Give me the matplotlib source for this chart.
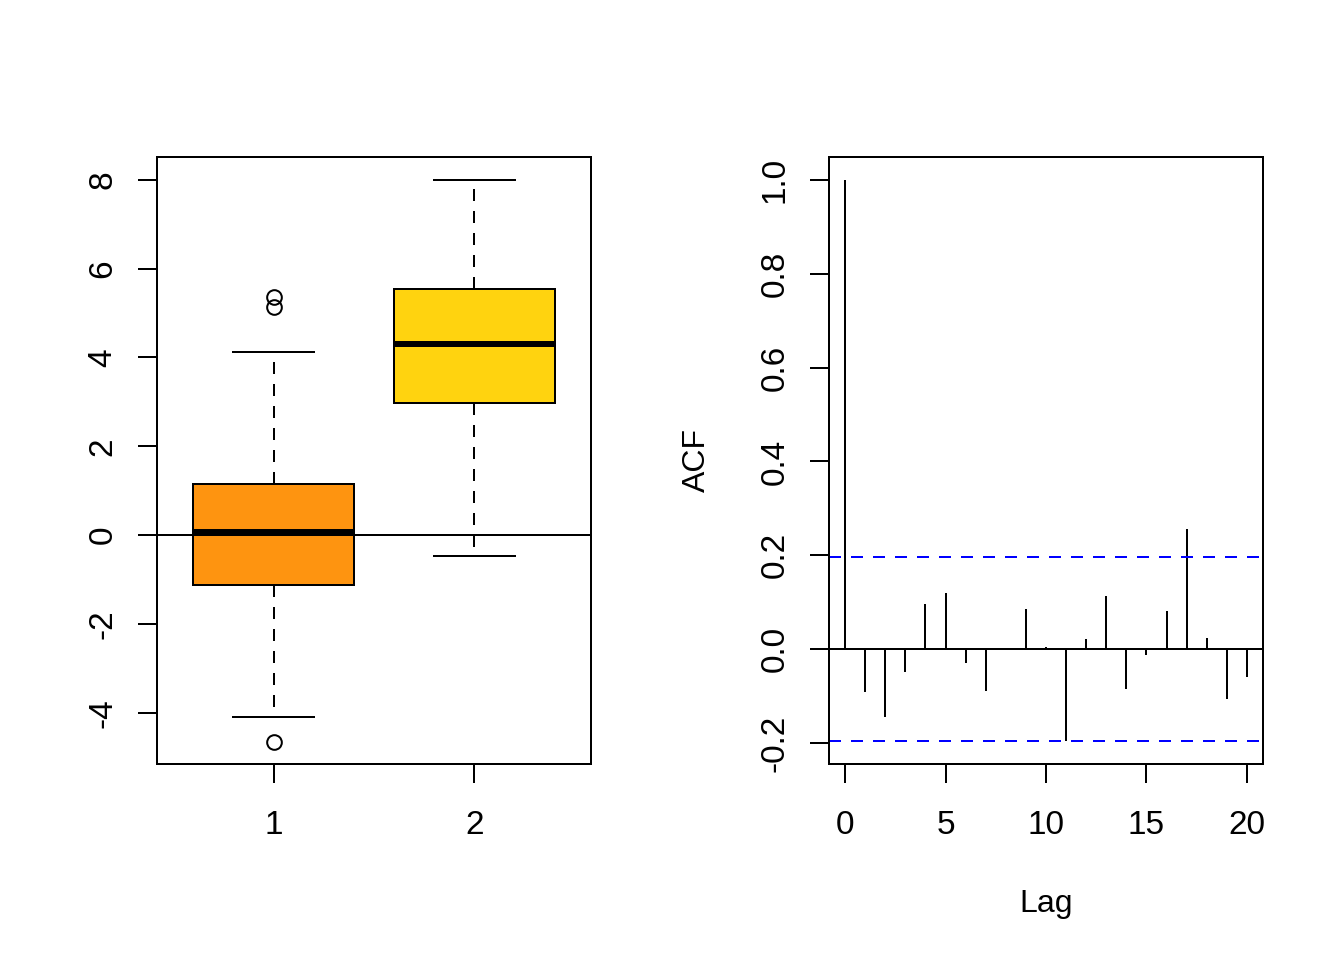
import matplotlib
matplotlib.use("Agg")
import matplotlib.pyplot as plt

plt.rcParams["font.family"] = ["Liberation Sans", "DejaVu Sans"]
plt.rcParams["font.size"] = 12

# boxplot summary statistics (group 1, group 2)
groups = [1, 2]
box_colors = ["#FE9410", "#FFD30F"]
q1 = [-1.12, 2.98]
medians = [0.08, 4.31]
q3 = [1.16, 5.55]
whisker_lo = [-4.10, -0.46]
whisker_hi = [4.12, 8.00]
outliers = [[5.35, 5.13, -4.66], []]

# sample autocorrelation, lags 0..20
lags = list(range(21))
acf_values = [1.0, -0.092, -0.145, -0.048, 0.097, 0.120, -0.030, -0.090,
              0.002, 0.086, 0.005, -0.195, 0.022, 0.113, -0.085, -0.013,
              0.082, 0.256, 0.024, -0.107, -0.059]
conf_bound = 0.196

LW = 0.75  # R lwd=1 in points
DASH = (0, (6, 5))

fig = plt.figure(figsize=(7, 5), dpi=192)
ax1 = fig.add_axes([157 / 1344, 1 - 764 / 960, 434 / 1344, 607 / 960])
ax2 = fig.add_axes([829 / 1344, 1 - 764 / 960, 434 / 1344, 607 / 960])

# ---- left: boxplot ----
stats = []
for i in range(len(groups)):
    stats.append(dict(med=medians[i], q1=q1[i], q3=q3[i],
                      whislo=whisker_lo[i], whishi=whisker_hi[i],
                      fliers=outliers[i]))
bp = ax1.bxp(stats, positions=groups, widths=0.8, capwidths=0.4,
             patch_artist=True,
             boxprops=dict(linewidth=LW, edgecolor="black"),
             medianprops=dict(color="black", linewidth=2.25, solid_capstyle="butt"),
             whiskerprops=dict(color="black", linewidth=LW, linestyle=DASH),
             capprops=dict(color="black", linewidth=LW),
             flierprops=dict(marker="o", markersize=5.5, markerfacecolor="none",
                             markeredgecolor="black", markeredgewidth=LW))
for patch, c in zip(bp["boxes"], box_colors):
    patch.set_facecolor(c)
ax1.axhline(0, color="black", linewidth=LW, zorder=5)

ax1.set_xlim(0.42, 2.58)
ax1.set_ylim(-5.15, 8.51)
ax1.set_xticks(groups)
ax1.set_xticklabels([str(g) for g in groups])
yt = [-4, -2, 0, 2, 4, 6, 8]
ax1.set_yticks(yt)
ax1.set_yticklabels([str(v) for v in yt], rotation=90, va="center")

# ---- right: ACF ----
ax2.vlines(lags, 0, acf_values, color="black", linewidth=LW)
ax2.axhline(0, color="black", linewidth=LW)
ax2.axhline(conf_bound, color="blue", linewidth=LW, linestyle=DASH)
ax2.axhline(-conf_bound, color="blue", linewidth=LW, linestyle=DASH)
ax2.set_xlim(-0.8, 20.8)
ax2.set_ylim(-0.2448, 1.0488)
xt = [0, 5, 10, 15, 20]
ax2.set_xticks(xt)
ax2.set_xticklabels([str(v) for v in xt])
yt2 = [-0.2, 0.0, 0.2, 0.4, 0.6, 0.8, 1.0]
ax2.set_yticks(yt2)
ax2.set_yticklabels([f"{v:.1f}" for v in yt2], rotation=90, va="center")
ax2.set_xlabel("Lag", labelpad=18)
ax2.set_ylabel("ACF", labelpad=18)

for ax in (ax1, ax2):
    for s in ax.spines.values():
        s.set_linewidth(LW)
    ax.tick_params(direction="out", length=7.2, width=LW, labelsize=12.5)
    ax.tick_params(axis="x", pad=10)
    ax.tick_params(axis="y", pad=7.2)

fig.savefig("out.png", dpi=192)
